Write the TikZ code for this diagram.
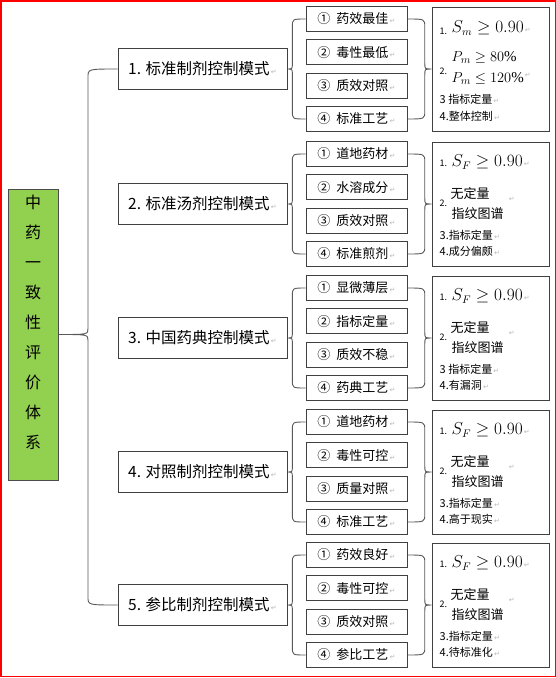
\documentclass[tikz,border=0pt]{standalone}
\usepackage{fontspec}
\setmainfont{Liberation Serif}
\newfontfamily\cjk{Noto Sans CJK SC}
\newfontfamily\dv{DejaVu Sans}
\usetikzlibrary{calc}
\definecolor{leaf}{HTML}{92D050}
\newcommand{\retmark}{{\color{gray!55}\dv\fontsize{7}{7}\selectfont\,↵}}
\newcommand{\numf}{\cjk\fontsize{9}{10}\selectfont}
\newcommand{\smf}{\cjk\fontsize{11}{12}\selectfont}
\newcommand{\midf}{\cjk\fontsize{13}{14}\selectfont}
\newcommand{\mathf}{\fontsize{16}{18}\selectfont}
\tikzset{
  box/.style={draw=black!75, line width=1pt, fill=white, inner sep=0pt},
  modebox/.style={box, minimum width=169pt, minimum height=41pt, font=\cjk\fontsize{15.5}{17}\selectfont},
  itembox/.style={box, minimum width=101pt, minimum height=25pt, font=\cjk\fontsize{13}{14}\selectfont},
  resbox/.style={box, minimum width=117pt, minimum height=124pt},
  link/.style={draw=black!65, line width=0.9pt},
  rl/.style={anchor=base west, inner sep=0pt}
}
% brace: #1 top end, #2 cusp, #3 bottom end, #4 fraction from cusp
\newcommand{\bracelink}[4]{%
  \draw[link] let \p1=(#1), \p2=(#2), \p3=(#3), \p4=($(#2)!#4!(#1 |- #2)$) in
   (\p1) .. controls (\x4,\y1) .. (\x4,\y1-8pt) -- (\x4,\y2+6pt) .. controls (\x4,\y2) .. (\p2)
   .. controls (\x4,\y2) .. (\x4,\y2-6pt) -- (\x4,\y3+8pt) .. controls (\x4,\y3) .. (\p3);
}
\newcommand{\grp}[7]{%
  \node[modebox] (m#1) at (202.5,#2) {#1. #3\retmark};
  \node[itembox] (i#1a) at (356.5,#2-50) {①\hspace{6pt}#4\retmark};
  \node[itembox] (i#1b) at (356.5,#2-16.7) {②\hspace{6pt}#5\retmark};
  \node[itembox] (i#1c) at (356.5,#2+16.7) {③\hspace{6pt}#6\retmark};
  \node[itembox] (i#1d) at (356.5,#2+50) {④\hspace{6pt}#7\retmark};
  \node[resbox] (r#1) at (490.5,#2) {};
  \bracelink{i#1a.west}{m#1.east}{i#1d.west}{0.27}
  \bracelink{i#1a.east}{r#1.west}{i#1d.east}{0.28}
}
\newcommand{\resF}[3]{%
  \node[rl] (r#1n1) at ($(r#1.north west)+(8,25)$) {\numf 1.};
  \node[rl] (r#1t1) at ($(r#1.north west)+(20,25)$) {\mathf $S_F \geq 0.90$\retmark};
  \node[rl] (r#1t2) at ($(r#1.north west)+(19,57)$) {\midf 无定量};
  \node[rl] (r#1n2) at ($(r#1.north west)+(8,65)$) {\numf 2.};
  \node[rl] (r#1t3) at ($(r#1.north west)+(20,77)$) {\midf 指纹图谱};
  \node[rl] (r#1m) at ($(r#1.north west)+(76,60)$) {\retmark};
  \node[rl] (r#1t4) at ($(r#1.north west)+(8,98)$) {\smf #2\retmark};
  \node[rl] (r#1t5) at ($(r#1.north west)+(8,114)$) {\smf #3\retmark};
}
\begin{document}
\begin{tikzpicture}[x=1pt,y=-1pt]
\useasboundingbox (0,0) rectangle (556,678);
\fill[white] (0,0) rectangle (556,678);
\draw[red, line width=1.5pt] (0.75,0.75) rectangle (555.25,676.25);

\node[draw=black!70, line width=1pt, fill=leaf, minimum width=50pt, minimum height=291pt, inner sep=0pt] (root) at (33,334.5) {};
\node[font=\cjk\fontsize{16}{30}\selectfont, align=center, inner sep=0pt] (roottext) at (33,322.5)
  {中\\药\\一\\致\\性\\评\\价\\体\\系};

\grp{1}{69}{标准制剂控制模式}{药效最佳}{毒性最低}{质效对照}{标准工艺}
\grp{2}{204}{标准汤剂控制模式}{道地药材}{水溶成分}{质效对照}{标准煎剂}
\grp{3}{338}{中国药典控制模式}{显微薄层}{指标定量}{质效不稳}{药典工艺}
\grp{4}{472}{对照制剂控制模式}{道地药材}{毒性可控}{质量对照}{标准工艺}
\grp{5}{605}{参比制剂控制模式}{药效良好}{毒性可控}{质效对照}{参比工艺}

\bracelink{m1.west}{root.east}{m5.west}{0.5}

% result box 1
\node[rl] (r1n1) at ($(r1.north west)+(8,28)$) {\numf 1.};
\node[rl] (r1t1) at ($(r1.north west)+(20,26)$) {\mathf $S_m \geq 0.90$\retmark};
\node[rl] (r1t2) at ($(r1.north west)+(20,55)$) {\fontsize{15}{17}\selectfont $P_m \geq 80\%$};
\node[rl] (r1n2) at ($(r1.north west)+(8,68)$) {\numf 2.};
\node[rl] (r1t3) at ($(r1.north west)+(20,76)$) {\fontsize{15}{17}\selectfont $P_m \leq 120\%$\raisebox{5pt}{\retmark}};
\node[rl] (r1t4) at ($(r1.north west)+(8,97)$) {\smf 3 指标定量\retmark};
\node[rl] (r1t5) at ($(r1.north west)+(8,114)$) {\smf 4.整体控制\retmark};

\resF{2}{3.指标定量}{4.成分偏颇}
\resF{3}{3 指标定量}{4.有漏洞}
\resF{4}{3.指标定量}{4.高于现实}
\resF{5}{3.指标定量}{4.待标准化}
\end{tikzpicture}
\end{document}
